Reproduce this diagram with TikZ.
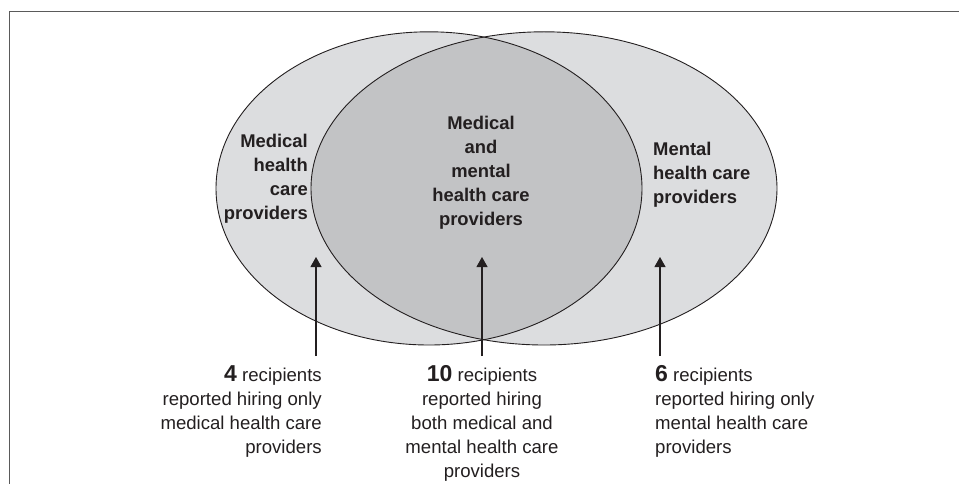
\documentclass[tikz,border=0pt]{standalone}
\usepackage{fontspec}
\setmainfont{Liberation Sans}
\usetikzlibrary{arrows.meta}
\definecolor{lightfill}{HTML}{DCDDDF}
\definecolor{darkfill}{HTML}{C2C3C5}
\definecolor{ink}{HTML}{231F20}
\definecolor{framecol}{HTML}{5A5A5A}
\tikzset{
  lab/.style={inner sep=0pt, text=ink, font=\fontsize{18.4}{24}\selectfont\bfseries},
  note/.style={inner sep=0pt, text=ink, font=\fontsize{18.6}{24}\selectfont},
  conn/.style={draw=ink, line width=1.1pt, -{Triangle[width=11pt,length=10pt]}},
  outline/.style={draw=ink, line width=0.9pt},
  frameline/.style={draw=framecol, line width=1.8pt}
}
\newcommand{\bignum}[1]{{\fontsize{23}{24}\selectfont\bfseries #1}}
\begin{document}
\begin{tikzpicture}[x=1pt,y=-1pt]
\useasboundingbox (0,0) rectangle (959,484);
% frame
\draw[frameline] (959,11.5) -- (9.5,11.5) -- (9.5,484);
% ellipses
\fill[lightfill] (429,188.4) ellipse [x radius=213, y radius=156.6];
\fill[lightfill] (544,188.4) ellipse [x radius=233, y radius=156.6];
\begin{scope}
  \clip (429,188.4) ellipse [x radius=213, y radius=156.6];
  \fill[darkfill] (544,188.4) ellipse [x radius=233, y radius=156.6];
\end{scope}
\draw[outline] (429,188.4) ellipse [x radius=213, y radius=156.6];
\draw[outline] (544,188.4) ellipse [x radius=233, y radius=156.6];
% region labels
\node[lab, anchor=base east] (medl) at (308,148)
  {\begin{tabular}[t]{@{}r@{}}Medical\\health\\care\\providers\end{tabular}};
\node[lab, anchor=base] (both) at (481,130)
  {\begin{tabular}[t]{@{}c@{}}Medical\\and\\mental\\health care\\providers\end{tabular}};
\node[lab, anchor=base west] (ment) at (653,156)
  {\begin{tabular}[t]{@{}l@{}}Mental\\health care\\providers\end{tabular}};
% notes
\node[note, anchor=base east] (n4) at (322,381)
  {\begin{tabular}[t]{@{}r@{}}\bignum{4} recipients\\reported hiring only\\medical health care\\providers\end{tabular}};
\node[note, anchor=base] (n10) at (482,381)
  {\begin{tabular}[t]{@{}c@{}}\bignum{10} recipients\\reported hiring\\both medical and\\mental health care\\providers\end{tabular}};
\node[note, anchor=base west] (n6) at (655,381)
  {\begin{tabular}[t]{@{}l@{}}\bignum{6} recipients\\reported hiring only\\mental health care\\providers\end{tabular}};
% arrows
\coordinate (a4s) at (316,356);
\coordinate (a4e) at (316,257);
\coordinate (a10s) at (482,356);
\coordinate (a10e) at (482,257);
\coordinate (a6s) at (660,356);
\coordinate (a6e) at (660,257);
\draw[conn] (a4s) -- (a4e);
\draw[conn] (a10s) -- (a10e);
\draw[conn] (a6s) -- (a6e);
\end{tikzpicture}
\end{document}
